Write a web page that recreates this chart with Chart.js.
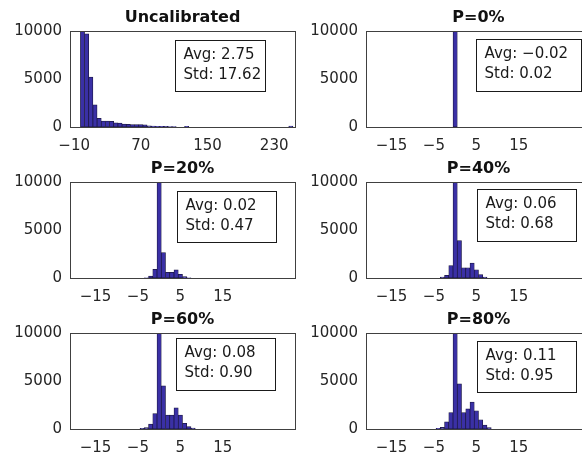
<!DOCTYPE html>
<html>
<head>
<meta charset="utf-8">
<script src="https://cdn.jsdelivr.net/npm/chart.js@4.4.1/dist/chart.umd.min.js"></script>
<style>
  html, body { margin: 0; padding: 0; background: #fff; overflow: hidden; }
  body { width: 582px; height: 460px; position: relative; }
  canvas { position: absolute; }
</style>
</head>
<body>
<script>
// histogram bins (bin centres) and counts
const uncalBins = [0, 5, 10, 15, 20, 25, 30, 35, 40, 45, 50, 55, 60, 65, 70, 75, 80, 85, 90, 95,
  100, 105, 110, 115, 120, 125, 130, 135, 140, 145, 150, 155, 160, 165, 170, 175, 180, 185, 190, 195,
  200, 205, 210, 215, 220, 225, 230, 235, 240, 245, 250];
const uncalCounts = [12000, 9700, 5200, 2300, 900, 620, 620, 600, 430, 420, 300, 280, 260, 250, 250, 230, 110, 90, 80, 70,
  60, 50, 40, 0, 0, 70, 0, 0, 0, 0, 0, 0, 0, 0, 0, 0, 0, 0, 0, 0,
  0, 0, 0, 0, 0, 0, 0, 0, 0, 0, 90];

const pBins = [-4, -3, -2, -1, 0, 1, 2, 3, 4, 5, 6, 7, 8];
const p0Counts  = [0, 0, 0, 0, 20000, 0, 0, 0, 0, 0, 0, 0, 0];
const p20Counts = [0, 30, 210, 900, 14000, 2650, 600, 600, 840, 380, 140, 30, 0];
const p40Counts = [0, 100, 280, 1300, 12500, 3900, 1070, 1070, 1550, 860, 350, 100, 0];
const p60Counts = [60, 160, 520, 1600, 11500, 4500, 1450, 1450, 2200, 1450, 580, 240, 100];
const p80Counts = [70, 170, 750, 1700, 11000, 4700, 1700, 2100, 2800, 1900, 960, 400, 140];

const uncalTicks = [-10, 70, 150, 230];
const pTicks = [-15, -5, 5, 15];
const yTicks = [0, 5000, 10000];

const titles = ['Uncalibrated', 'P=0%', 'P=20%', 'P=40%', 'P=60%', 'P=80%'];
const avgs = ['2.75', '−0.02', '0.02', '0.06', '0.08', '0.11'];
const stds = ['17.62', '0.02', '0.47', '0.68', '0.90', '0.95'];

Chart.defaults.font.family = '"DejaVu Sans", sans-serif';
Chart.defaults.font.size = 15;
Chart.defaults.color = '#262626';

const BAR_FILL = '#3a30a6';
const BAR_EDGE = '#1b1740';

// panel layout: canvas position + stats box offset inside the plot area
const panels = [
  { bins: uncalBins, counts: uncalCounts, ticks: uncalTicks, xmin: -15, xmax: 255, left: 0,   top: 0,   box: [105, 9, 90, 51] },
  { bins: pBins, counts: p0Counts,  ticks: pTicks, xmin: -21, xmax: 32, left: 296, top: 0,   box: [110, 8, 105, 52] },
  { bins: pBins, counts: p20Counts, ticks: pTicks, xmin: -21, xmax: 32, left: 0,   top: 151, box: [107, 9, 99, 51] },
  { bins: pBins, counts: p40Counts, ticks: pTicks, xmin: -21, xmax: 32, left: 296, top: 151, box: [111, 7, 99, 52] },
  { bins: pBins, counts: p60Counts, ticks: pTicks, xmin: -21, xmax: 32, left: 0,   top: 302, box: [106, 5, 99, 52] },
  { bins: pBins, counts: p80Counts, ticks: pTicks, xmin: -21, xmax: 32, left: 296, top: 302, box: [111, 8, 99, 51] }
];

function fmt(v) {
  return v < 0 ? '−' + Math.abs(v) : String(v);
}

// axes box (all four sides), title over the plot area, and the Avg/Std text box
const boxPlugin = {
  id: 'matlabBox',
  afterDraw(chart, args, opts) {
    const { ctx, chartArea: a } = chart;
    ctx.save();
    ctx.strokeStyle = '#404040';
    ctx.lineWidth = 1;
    const l = Math.round(a.left) + 0.5, t = Math.round(a.top) + 0.5;
    const r = Math.round(a.right) + 0.5, b = Math.round(a.bottom) + 0.5;
    ctx.strokeRect(l, t, r - l, b - t);

    // title, centred on the axes like MATLAB
    ctx.fillStyle = '#111';
    ctx.font = 'bold 16px "DejaVu Sans", sans-serif';
    ctx.textAlign = 'center';
    ctx.textBaseline = 'middle';
    ctx.fillText(opts.title, (a.left + a.right) / 2, a.top - 13.5);

    const [dx, dy, w, h] = opts.box;
    const bx = Math.round(a.left + dx) + 0.5, by = Math.round(a.top + dy) + 0.5;
    ctx.fillStyle = '#fff';
    ctx.fillRect(bx, by, w, h);
    ctx.strokeStyle = '#1a1a1a';
    ctx.strokeRect(bx, by, w, h);
    ctx.fillStyle = '#1a1a1a';
    ctx.font = '15px "DejaVu Sans", sans-serif';
    ctx.textAlign = 'left';
    ctx.fillText('Avg: ' + opts.avg, bx + 8, by + 14.5);
    ctx.fillText('Std: ' + opts.std, bx + 8, by + 34.5);
    ctx.restore();
  }
};

panels.forEach((p, i) => {
  const canvas = document.createElement('canvas');
  canvas.width = 305;
  canvas.height = 152;
  canvas.style.left = p.left + 'px';
  canvas.style.top = p.top + 'px';
  document.body.appendChild(canvas);

  new Chart(canvas.getContext('2d'), {
    type: 'bar',
    data: {
      datasets: [{
        data: p.bins.map((b, k) => ({ x: b, y: p.counts[k] })),
        backgroundColor: BAR_FILL,
        borderColor: BAR_EDGE,
        borderWidth: 0.75,
        borderSkipped: false,
        barPercentage: 1,
        categoryPercentage: 1
      }]
    },
    options: {
      responsive: false,
      animation: false,
      devicePixelRatio: 1,
      layout: { padding: { left: 0, right: 10, top: 31, bottom: 0 } },
      plugins: {
        legend: { display: false },
        tooltip: { enabled: false },
        title: { display: false },
        matlabBox: { title: titles[i], box: p.box, avg: avgs[i], std: stds[i] }
      },
      scales: {
        x: {
          type: 'linear',
          min: p.xmin,
          max: p.xmax,
          offset: false,
          grid: { display: false, drawTicks: false },
          border: { display: false },
          afterBuildTicks: (scale) => { scale.ticks = p.ticks.map(v => ({ value: v })); },
          afterFit: (scale) => { scale.height = 25; },
          ticks: { padding: 10, maxRotation: 0, autoSkip: false, callback: (v) => fmt(v) }
        },
        y: {
          min: 0,
          max: 10000,
          grid: { display: false, drawTicks: false },
          border: { display: false },
          afterBuildTicks: (scale) => { scale.ticks = yTicks.map(v => ({ value: v })); },
          afterFit: (scale) => { scale.width = 70; },
          ticks: { padding: 8, callback: (v) => String(v) }
        }
      }
    },
    plugins: [boxPlugin]
  });
});
</script>
</body>
</html>
